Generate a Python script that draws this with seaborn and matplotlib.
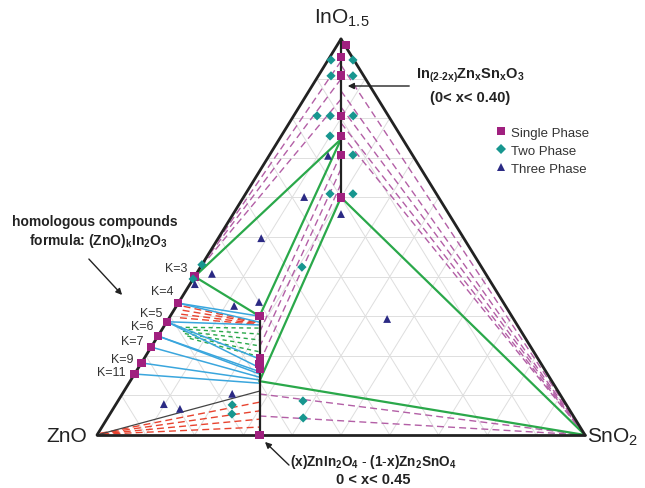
import numpy as np
import pandas as pd
import matplotlib.pyplot as plt
import seaborn as sns

# ==========================================
# Data: compositions as (InO1.5 fraction, SnO2 fraction); ZnO = remainder
# ==========================================
single_in = [0.985, 0.955, 0.908, 0.806, 0.755, 0.707, 0.600,
             0.400, 0.333, 0.286, 0.250, 0.222, 0.182, 0.154,
             0.300, 0.193, 0.180, 0.167, 0.000]
single_sn = [0.018, 0.0225, 0.046, 0.097, 0.1225, 0.1465, 0.200,
             0.0, 0.0, 0.0, 0.0, 0.0, 0.0, 0.0,
             0.183, 0.237, 0.243, 0.250, 0.333]

two_in = [0.947, 0.947, 0.907, 0.907, 0.806, 0.806, 0.806, 0.755, 0.707,
          0.609, 0.609, 0.430, 0.394, 0.424, 0.076, 0.053, 0.086, 0.043]
two_sn = [0.006, 0.051, 0.026, 0.071, 0.048, 0.075, 0.122, 0.100, 0.171,
          0.173, 0.220, 0.0, 0.0, 0.208, 0.239, 0.250, 0.379, 0.401]

three_in = [0.705, 0.601, 0.558, 0.497, 0.407, 0.381, 0.326, 0.336, 0.293,
            0.078, 0.066, 0.104]
three_sn = [0.121, 0.124, 0.221, 0.088, 0.032, 0.010, 0.118, 0.164, 0.448,
            0.098, 0.137, 0.225]

k_labels = ["K=3", "K=4", "K=5", "K=6", "K=7", "K=9", "K=11"]

# tie lines: (In1, Sn1, In2, Sn2)
green_lines = [(0.747, 0.1265, 0.400, 0.0),
               (0.747, 0.1265, 0.300, 0.183),
               (0.400, 0.0, 0.300, 0.183),
               (0.600, 0.200, 0.136, 0.265),
               (0.600, 0.200, 0.0, 1.0),
               (0.136, 0.265, 0.0, 1.0)]
blue_lines = [(0.333, 0.0, 0.300, 0.183),
              (0.333, 0.0, 0.285, 0.190),
              (0.286, 0.0, 0.278, 0.192),
              (0.286, 0.0, 0.192, 0.237),
              (0.286, 0.0, 0.170, 0.248),
              (0.250, 0.0, 0.160, 0.253),
              (0.250, 0.0, 0.154, 0.256),
              (0.222, 0.0, 0.146, 0.260),
              (0.182, 0.0, 0.139, 0.264),
              (0.154, 0.0, 0.131, 0.267)]
red_dashed = [(0.325, 0.015, 0.284, 0.189),
              (0.315, 0.018, 0.283, 0.190),
              (0.305, 0.020, 0.281, 0.190),
              (0.296, 0.022, 0.279, 0.191),
              (0.004, 0.004, 0.083, 0.292),
              (0.004, 0.006, 0.061, 0.303),
              (0.003, 0.008, 0.040, 0.313),
              (0.002, 0.010, 0.020, 0.323)]
green_dashed = [(0.272, 0.030, 0.270, 0.198),
                (0.268, 0.038, 0.255, 0.205),
                (0.262, 0.045, 0.240, 0.213),
                (0.256, 0.052, 0.225, 0.221),
                (0.250, 0.060, 0.210, 0.228),
                (0.244, 0.068, 0.198, 0.234)]
purple_dashed = [(0.944, 0.028, 0.449, 0.0),
                 (0.899, 0.0505, 0.434, 0.0),
                 (0.848, 0.076, 0.419, 0.0),
                 (0.934, 0.033, 0.0, 1.0),
                 (0.869, 0.0655, 0.0, 1.0),
                 (0.828, 0.086, 0.0, 1.0),
                 (0.788, 0.106, 0.0, 1.0),
                 (0.760, 0.120, 0.0, 1.0),
                 (0.710, 0.145, 0.262, 0.203),
                 (0.672, 0.164, 0.222, 0.222),
                 (0.634, 0.183, 0.182, 0.242),
                 (0.1035, 0.282, 0.0, 1.0),
                 (0.048, 0.309, 0.0, 1.0)]
zno_boundary = (0.0, 0.0, 0.111, 0.278)

H = 396 / 488  # apex height of the drawn triangle


def tern(inn, sn):
    inn = np.asarray(inn, dtype=float)
    sn = np.asarray(sn, dtype=float)
    return sn + 0.5 * inn, inn * H


def px(x, y):
    # pixel position in the 645x489 picture -> data coords
    return (x - 97) / 488, (436 - y) / 488


# ==========================================
# Style
# ==========================================
sns.set_theme(style="white")
plt.rcParams["font.family"] = ["Liberation Sans", "DejaVu Sans"]
plt.rcParams["mathtext.fontset"] = "custom"
plt.rcParams["mathtext.rm"] = "Liberation Sans"
plt.rcParams["mathtext.it"] = "Liberation Sans"
plt.rcParams["mathtext.bf"] = "Liberation Sans:bold"

C_SINGLE = "#a0207f"
C_TWO = "#17968f"
C_THREE = "#2b2a84"
C_GREEN = "#2aa84a"
C_BLUE = "#3aa6dd"
C_RED = "#e8432f"
C_PURPLE = "#b35fa6"

fig = plt.figure(figsize=(6.45, 4.89), dpi=100)
ax = fig.add_axes([0, 0, 1, 1])
ax.set_xlim(-97 / 488, 548 / 488)
ax.set_ylim(-53 / 488, 436 / 488)
ax.axis("off")

# triangular grid every 10 %
for i in range(1, 10):
    f = i / 10
    for a, b in [((f, 0), (f, 1 - f)), ((0, f), (1 - f, f)), ((0, 1 - f), (1 - f, 0))]:
        x, y = tern([a[0], b[0]], [a[1], b[1]])
        ax.plot(x, y, color="#dedede", lw=0.7, zorder=0)


def seg(s, **kw):
    x, y = tern([s[0], s[2]], [s[1], s[3]])
    ax.plot(x, y, **kw)


for s in purple_dashed:
    seg(s, color=C_PURPLE, lw=1.0, ls=(0, (5, 3)), zorder=1)
for s in red_dashed:
    seg(s, color=C_RED, lw=1.0, ls=(0, (5, 3)), zorder=1)
for s in green_dashed:
    seg(s, color=C_GREEN, lw=1.0, ls=(0, (3, 2.5)), zorder=1)
for s in blue_lines:
    seg(s, color=C_BLUE, lw=1.1, zorder=2)
for s in green_lines:
    seg(s, color=C_GREEN, lw=1.6, zorder=2)
seg(zno_boundary, color="#444444", lw=0.9, zorder=2)

# triangle outline and the two solid-solution lines
seg((0, 0, 0, 1), color="#222222", lw=2.0, zorder=3)
seg((0, 1, 1, 0), color="#222222", lw=2.0, zorder=3)
seg((1, 0, 0, 0), color="#222222", lw=2.0, zorder=3)
seg((1.0, 0.0, 0.600, 0.200), color="#222222", lw=1.6, zorder=3)
seg((0.0, 0.333, 0.300, 0.183), color="#222222", lw=1.6, zorder=3)

# markers
frames = []
for name, a, b in [("Single Phase", single_in, single_sn),
                   ("Two Phase", two_in, two_sn),
                   ("Three Phase", three_in, three_sn)]:
    x, y = tern(a, b)
    frames.append(pd.DataFrame({"x": x, "y": y, "phase": name}))
df = pd.concat(frames, ignore_index=True)

sns.scatterplot(
    data=df, x="x", y="y", hue="phase", style="phase", ax=ax,
    palette={"Single Phase": C_SINGLE, "Two Phase": C_TWO, "Three Phase": C_THREE},
    markers={"Single Phase": "s", "Two Phase": "D", "Three Phase": "^"},
    size="phase", sizes={"Single Phase": 36, "Two Phase": 22, "Three Phase": 32},
    linewidth=0, zorder=5,
)
sns.move_legend(ax, "upper left", bbox_to_anchor=(0.748, 0.75), frameon=False,
                title=None, fontsize=9.5, handletextpad=-0.2, labelspacing=0.45,
                borderaxespad=0)
for t in ax.get_legend().get_texts():
    t.set_color("#333333")

# ==========================================
# Labels
# ==========================================
ax.text(*px(342, 18), r"InO$_{\mathregular{1.5}}$", ha="center", va="center", fontsize=15, color="#222222")
ax.text(*px(67, 437), "ZnO", ha="center", va="center", fontsize=15, color="#222222")
ax.text(*px(613, 437), r"SnO$_{\mathregular{2}}$", ha="center", va="center", fontsize=15, color="#222222")

ax.text(*px(470, 76), r"$\mathbf{In_{(2\text{-}2x)}Zn_{x}Sn_{x}O_{3}}$", ha="center", va="center",
        fontsize=10.5, color="#222222")
ax.text(*px(470, 98), "(0< x< 0.40)", ha="center", va="center", fontsize=10.5,
        fontweight="bold", color="#222222")
ax.annotate("", xy=px(345, 87), xytext=px(412, 87),
            arrowprops=dict(arrowstyle="-|>", color="#222222", lw=1.0, mutation_scale=9))

ax.text(*px(95, 222), "homologous compounds", ha="center", va="center", fontsize=10,
        fontweight="bold", color="#222222")
ax.text(*px(98, 241), r"formula: (ZnO)$_{\mathbf{k}}$In$_{\mathbf{2}}$O$_{\mathbf{3}}$", ha="center",
        va="center", fontsize=10, fontweight="bold", color="#222222")
ax.annotate("", xy=px(124, 298), xytext=px(87, 258),
            arrowprops=dict(arrowstyle="-|>", color="#222222", lw=1.0, mutation_scale=9))

label_pos = [(187, 269), (173, 292), (162, 314), (153, 327), (143, 342), (133, 360), (126, 373)]
for lab, (lx, ly) in zip(k_labels, label_pos):
    ax.text(*px(lx, ly), lab, ha="right", va="center", fontsize=9, color="#333333")

ax.text(*px(373, 462), r"$\mathbf{(x)ZnIn_{2}O_{4}\ \text{-}\ (1\text{-}x)Zn_{2}SnO_{4}}$",
        ha="center", va="center", fontsize=9.8, color="#222222")
ax.text(*px(373, 480), "0 < x< 0.45", ha="center", va="center", fontsize=10.5,
        fontweight="bold", color="#222222")
ax.annotate("", xy=px(263, 441), xytext=px(291, 468),
            arrowprops=dict(arrowstyle="-|>", color="#222222", lw=1.0, mutation_scale=9))

fig.savefig("out.png", dpi=100, facecolor="white")
